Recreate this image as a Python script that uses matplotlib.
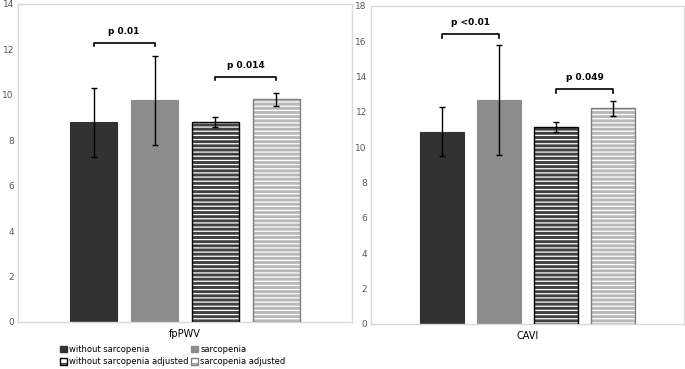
import matplotlib.pyplot as plt
from matplotlib.patches import Patch

plt.rcParams['font.family'] = ['DejaVu Sans']
plt.rcParams['hatch.linewidth'] = 0.9

groups = ['without sarcopenia', 'sarcopenia',
          'without sarcopenia adjusted', 'sarcopenia adjusted']

fppwv_mean = [8.8, 9.76, 8.79, 9.8]
fppwv_err = [1.52, 1.95, 0.22, 0.3]
cavi_mean = [10.88, 12.68, 11.15, 12.2]
cavi_err = [1.4, 3.12, 0.28, 0.4]

fppwv_pvals = [('p 0.01', 0, 1, 12.3), ('p 0.014', 2, 3, 10.8)]
cavi_pvals = [('p <0.01', 0, 1, 16.4), ('p 0.049', 2, 3, 13.3)]

faces = ['#323232', '#8c8c8c', '#404040', '#b8b8b8']
hatch_cols = [None, None, 'white', 'white']
edges = ['#323232', '#8c8c8c', 'black', '#7f7f7f']
frame = '#d9d9d9'


def draw_panel(ax, means, errs, pvals, ymax, label):
    xs = range(len(means))
    for x, m, fc, hc, ec in zip(xs, means, faces, hatch_cols, edges):
        if hc is None:
            ax.bar(x, m, width=0.78, color=fc, edgecolor=ec, linewidth=0.8, zorder=2)
        else:
            ax.bar(x, m, width=0.78, color=fc, edgecolor=hc, hatch='----',
                   linewidth=0, zorder=2)
            ax.bar(x, m, width=0.78, fill=False, edgecolor=ec, linewidth=1.0, zorder=3)
    ax.errorbar(list(xs), means, yerr=errs, fmt='none', ecolor='black',
                elinewidth=1.0, capsize=2, capthick=1.0, zorder=4)
    arm = ymax * 0.012
    for txt, a, b, y in pvals:
        ax.plot([a, a, b, b], [y - arm, y, y, y - arm], color='black', lw=1.2,
                zorder=4, clip_on=False)
        ax.text((a + b) / 2, y + ymax * 0.022, txt, ha='center', va='bottom',
                fontsize=6.5, fontweight='bold')
    ax.set_xlim(-1.24, 4.24)
    ax.set_ylim(0, ymax)
    ax.set_yticks(range(0, ymax + 1, 2))
    ax.set_xticks([])
    ax.tick_params(axis='y', length=0, labelsize=6.5, labelcolor='#595959', pad=3)
    for s in ax.spines.values():
        s.set_color(frame)
        s.set_linewidth(1.0)
    ax.set_xlabel(label, fontsize=7, labelpad=5)


fig = plt.figure(figsize=(6.85, 3.69), dpi=100)
ax1 = fig.add_axes([0.0263, 0.1274, 0.4876, 0.8618])
ax2 = fig.add_axes([0.5416, 0.1220, 0.4570, 0.8618])

draw_panel(ax1, fppwv_mean, fppwv_err, fppwv_pvals, 14, 'fpPWV')
draw_panel(ax2, cavi_mean, cavi_err, cavi_pvals, 18, 'CAVI')

handles = []
for name, fc, hc, ec in zip(groups, faces, hatch_cols, edges):
    if hc is None:
        handles.append(Patch(facecolor=fc, edgecolor=fc, label=name))
    else:
        handles.append(Patch(facecolor='white', edgecolor=ec, hatch='---',
                             label=name))
# two columns filled row by row
order = [0, 2, 1, 3]
fig.legend(handles=[handles[i] for i in order], ncol=2, loc='upper left',
           bbox_to_anchor=(60 / 685, 1 - 345 / 369), frameon=False,
           fontsize=6, handlelength=0.8, handleheight=0.8, handletextpad=0.3,
           columnspacing=0.3, labelspacing=0.4, borderaxespad=0, borderpad=0)

fig.savefig('out.png', dpi=100)
